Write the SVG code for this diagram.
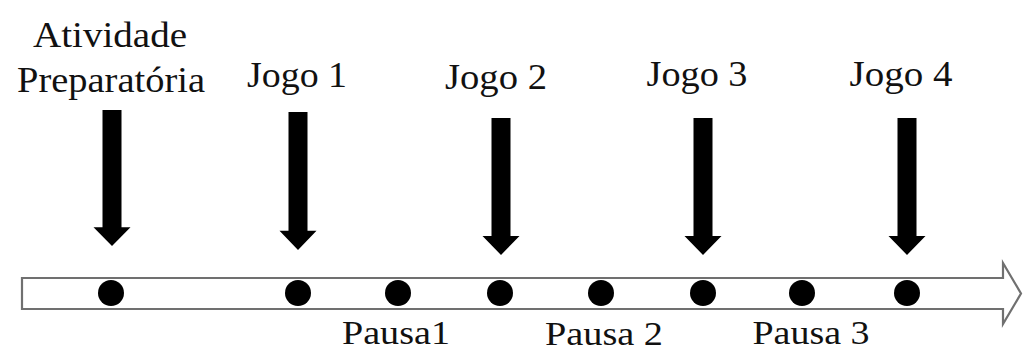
<svg xmlns="http://www.w3.org/2000/svg" width="1023" height="352" viewBox="0 0 1023 352">
  <style>
    .lbl { font-family: "Liberation Serif", "Times New Roman", serif; font-size: 36px; fill: #111; text-anchor: middle; }
    .pause { font-size: 34px; }
    .down { fill: #000; }
    .dot { fill: #000; }
    .axis { fill: #fff; stroke: #707070; stroke-width: 2.2; stroke-linejoin: miter; }
  </style>
  <defs>
    <!-- block arrow pointing down, origin at the top centre of the shaft -->
    <path id="downArrow" d="M-9.5,0 H9.5 V118 H18.5 L0,137 L-18.5,118 H-9.5 Z"/>
  </defs>

  <!-- timeline: hollow block arrow -->
  <g id="timeline">
    <path class="axis" d="M22,278 H1003 V263 L1021,293.5 L1003,324 V309 H22 Z"/>
  </g>

  <!-- points on the timeline -->
  <g id="points">
    <circle class="dot" cx="111" cy="293" r="13"/>
    <circle class="dot" cx="298" cy="293" r="13"/>
    <circle class="dot" cx="398" cy="293" r="13"/>
    <circle class="dot" cx="500" cy="293" r="13"/>
    <circle class="dot" cx="601" cy="293" r="13"/>
    <circle class="dot" cx="703" cy="293" r="13"/>
    <circle class="dot" cx="802" cy="293" r="13"/>
    <circle class="dot" cx="907" cy="293" r="13"/>
  </g>

  <!-- event labels -->
  <g id="atividade">
    <text class="lbl" x="110" y="47" textLength="154" lengthAdjust="spacingAndGlyphs">Atividade</text>
    <text class="lbl" x="111" y="92" textLength="188" lengthAdjust="spacingAndGlyphs">Preparatória</text>
  </g>
  <g id="jogo1">
    <text class="lbl" x="297" y="87" textLength="100" lengthAdjust="spacingAndGlyphs">Jogo 1</text>
  </g>
  <g id="jogo2">
    <text class="lbl" x="496" y="89" textLength="102" lengthAdjust="spacingAndGlyphs">Jogo 2</text>
  </g>
  <g id="jogo3">
    <text class="lbl" x="697" y="86" textLength="101" lengthAdjust="spacingAndGlyphs">Jogo 3</text>
  </g>
  <g id="jogo4">
    <text class="lbl" x="901" y="86" textLength="103" lengthAdjust="spacingAndGlyphs">Jogo 4</text>
  </g>

  <!-- pause labels -->
  <g id="pausa1">
    <text class="lbl pause" x="396" y="344" textLength="108" lengthAdjust="spacingAndGlyphs">Pausa1</text>
  </g>
  <g id="pausa2">
    <text class="lbl pause" x="604" y="345" textLength="118" lengthAdjust="spacingAndGlyphs">Pausa 2</text>
  </g>
  <g id="pausa3">
    <text class="lbl pause" x="811" y="344" textLength="117" lengthAdjust="spacingAndGlyphs">Pausa 3</text>
  </g>

  <!-- connectors: arrows from each event to the timeline -->
  <g id="connectors">
    <use class="down" href="#downArrow" transform="translate(112,110) scale(1,0.993)"/>
    <use class="down" href="#downArrow" transform="translate(298,112) scale(1,1.007)"/>
    <use class="down" href="#downArrow" transform="translate(501,118)"/>
    <use class="down" href="#downArrow" transform="translate(703,118)"/>
    <use class="down" href="#downArrow" transform="translate(907,118)"/>
  </g>
</svg>
